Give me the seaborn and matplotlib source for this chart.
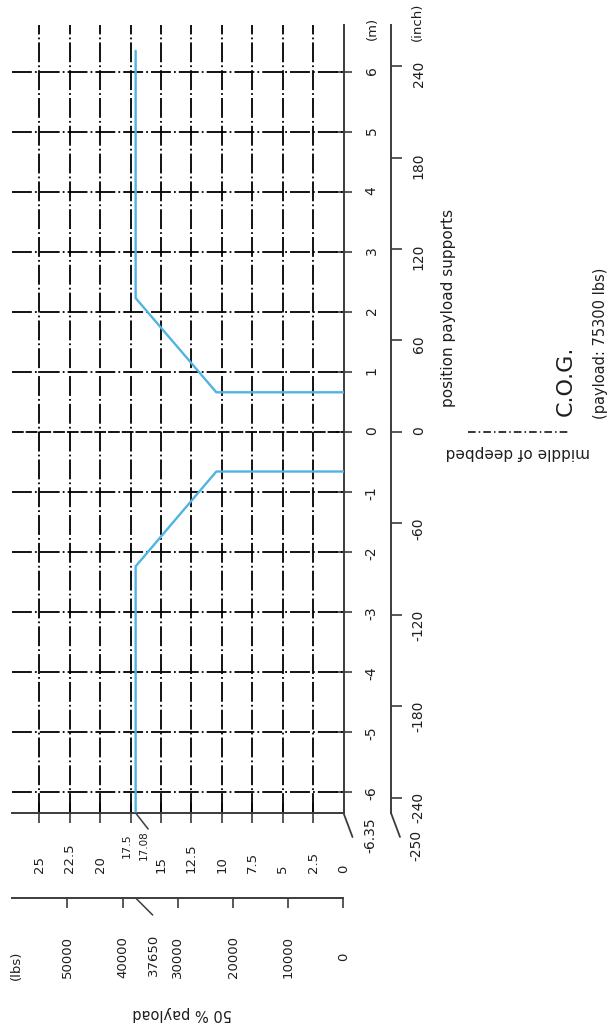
import matplotlib
matplotlib.use("Agg")
import matplotlib.pyplot as plt
import matplotlib.transforms as mtransforms
from matplotlib.lines import Line2D
import pandas as pd
import seaborn as sns

# 50 % payload (t) against position of the payload supports (m), deepbed middle = 0
pos_upper = [6.35, 2.23, 0.66, 0.66]
load_upper = [17.08, 17.08, 10.45, 0.0]
pos_lower = [-0.66, -0.66, -2.24, -6.35]
load_lower = [0.0, 10.45, 17.08, 17.08]

t_ticks = [0, 2.5, 5, 7.5, 10, 12.5, 15, 17.5, 20, 22.5, 25]
t_labels = ["0", "2.5", "5", "7.5", "10", "12.5", "15", "17.5", "20", "22.5", "25"]
m_ticks = [-6, -5, -4, -3, -2, -1, 0, 1, 2, 3, 4, 5, 6]
m_labels = ["-6", "-5", "-4", "-3", "-2", "-1", "0", "1", "2", "3", "4", "5", "6"]
inch_ticks = [-240, -180, -120, -60, 0, 60, 120, 180, 240]
inch_labels = ["-240", "-180", "-120", "-60", "0", "60", "120", "180", "240"]
lbs_ticks = [0, 10000, 20000, 30000, 40000, 50000]
lbs_labels = ["0", "10000", "20000", "30000", "40000", "50000"]

max_t = 17.08
max_lbs = 37650
end_m = -6.35
end_inch = -250
payload_lbs = 75300

LBS_PER_T = 2204.62
INCH_PER_M = 39.3701
BLUE = "#4fb4e4"
INK = "#1e1e1e"
AXC = "#3c3c3c"
DASHDOT = (0, (11, 1.7, 1, 1.7))

W, H = 612, 1033


def fx(px):
    return px / W


def fy(py):
    return 1 - py / H


sns.set_theme(style="ticks")
plt.rcParams["font.family"] = ["DejaVu Sans"]
plt.rcParams["text.color"] = INK

fig = plt.figure(figsize=(W / 100, H / 100), dpi=100)
ax = fig.add_axes([fx(12), fy(813), fx(343.5) - fx(12), fy(25) - fy(813)])

df = pd.DataFrame({
    "pos_m": pos_upper + pos_lower,
    "load_t": load_upper + load_lower,
    "branch": ["upper"] * len(pos_upper) + ["lower"] * len(pos_lower),
})
sns.lineplot(data=df, x="load_t", y="pos_m", units="branch", estimator=None,
             sort=False, color=BLUE, lw=1.7, ax=ax, zorder=3)

# dash-dot grid, the deepbed middle drawn dashed
for v in t_ticks[1:]:
    ax.axvline(v, color="black", lw=1.3, ls=DASHDOT, zorder=1)
for p in m_ticks:
    ax.axhline(p, color="black", lw=1.3,
               ls=(0, (6.5, 1.1)) if p == 0 else DASHDOT, zorder=1)

ax.set_xlim(27.24, 0)
ax.set_ylim(end_m, 6.78)
ax.set_xlabel("")
ax.set_ylabel("")

# twin axes for inch and lbs scales
ax_in = ax.twinx()
ax_lb = ax.twiny()

for s in ["top", "left"]:
    ax.spines[s].set_visible(False)
for s in ["bottom", "right"]:
    ax.spines[s].set_color(AXC)
    ax.spines[s].set_linewidth(1.4)

ax.xaxis.tick_bottom()
ax.set_xticks(t_ticks[1:])
ax.set_xticklabels([])
ax.tick_params(axis="x", direction="inout", length=15, width=1.2, color=AXC,
               top=False, labeltop=False)
ax.yaxis.tick_right()
ax.set_yticks(m_ticks)
ax.set_yticklabels(m_labels)
ax.tick_params(axis="y", direction="inout", length=11.5, width=1.2, color=AXC,
               pad=9.5, labelrotation=90, labelsize=10, labelcolor=INK,
               left=False, labelleft=False)

# tonnes labels
tb = mtransforms.blended_transform_factory(ax.transData, fig.transFigure)
for v, lab in zip(t_ticks, t_labels):
    if v == 17.5:
        ax.text(v, fy(858), lab, transform=mtransforms.offset_copy(tb, fig=fig, x=-4, units="dots"),
                rotation=90, rotation_mode="anchor", ha="left", va="center", fontsize=8)
    else:
        ax.text(v, fy(873), lab, transform=tb, rotation=90, rotation_mode="anchor",
                ha="left", va="center", fontsize=9.5)
ax.text(max_t, fy(860), f"{max_t:.2f}", transform=mtransforms.offset_copy(tb, fig=fig, x=8.5, units="dots"),
        rotation=90, rotation_mode="anchor", ha="left", va="center", fontsize=7.5)
ax.annotate("", xy=(max_t, end_m), xytext=(12.5, -16), textcoords="offset pixels",
            arrowprops=dict(arrowstyle="-", color=AXC, lw=1.1, shrinkA=0, shrinkB=0))

# end of the m axis
ax.annotate("", xy=(0, end_m), xytext=(9, -24), textcoords="offset pixels",
            arrowprops=dict(arrowstyle="-", color=AXC, lw=1.3, shrinkA=0, shrinkB=0))
ax.text(0, end_m, f"{end_m:.2f}", transform=mtransforms.offset_copy(ax.transData, fig=fig, x=26.5, y=-22, units="dots"),
        rotation=90, ha="center", va="center", fontsize=10)

# inch axis
ax_in.set_ylim(end_m * INCH_PER_M, 6.78 * INCH_PER_M)
for s in ["top", "left", "bottom"]:
    ax_in.spines[s].set_visible(False)
ax_in.spines["right"].set_position(("outward", 34.2))
ax_in.spines["right"].set_color(AXC)
ax_in.spines["right"].set_linewidth(1.4)
ax_in.set_yticks(inch_ticks)
ax_in.set_yticklabels(inch_labels)
ax_in.tick_params(axis="y", direction="out", length=7.9, width=1.2, color=AXC,
                  pad=7, labelrotation=90, labelsize=10, labelcolor=INK,
                  left=False, labelleft=False)
ax.annotate("", xy=(0, end_m), xycoords=mtransforms.offset_copy(ax.transData, fig=fig, x=47.5, units="dots"),
            xytext=(9, -24), textcoords="offset pixels",
            arrowprops=dict(arrowstyle="-", color=AXC, lw=1.3, shrinkA=0, shrinkB=0))
ib = mtransforms.blended_transform_factory(fig.transFigure, ax_in.transData)
ax_in.text(fx(416), end_inch, str(end_inch), transform=mtransforms.offset_copy(ib, fig=fig, y=-32, units="dots"),
           rotation=90, ha="center", va="center", fontsize=10)

# lbs axis
ax_lb.set_xlim(27.24 * LBS_PER_T, 0)
ax_lb.xaxis.set_ticks_position("bottom")
for s in ["top", "left", "right"]:
    ax_lb.spines[s].set_visible(False)
ax_lb.spines["bottom"].set_visible(True)
ax_lb.spines["bottom"].set_position(("outward", 61.2))
ax_lb.spines["bottom"].set_color(AXC)
ax_lb.spines["bottom"].set_linewidth(1.4)
ax_lb.set_xticks(lbs_ticks)
ax_lb.set_xticklabels([])
ax_lb.tick_params(axis="x", direction="out", length=7.2, width=1.2, color=AXC,
                  top=False, labeltop=False)
lb = mtransforms.blended_transform_factory(ax_lb.transData, fig.transFigure)
for v, lab in zip(lbs_ticks, lbs_labels):
    ax_lb.text(v, fy(957), lab, transform=lb, rotation=90, ha="center", va="center", fontsize=9.5)
ax_lb.text(max_lbs, fy(955), str(max_lbs), transform=mtransforms.offset_copy(lb, fig=fig, x=17.5, units="dots"),
           rotation=90, ha="center", va="center", fontsize=9.5)
ax_lb.annotate("", xy=(max_lbs, end_m),
               xycoords=mtransforms.offset_copy(ax_lb.transData, fig=fig, y=-85, units="dots"),
               xytext=(17, -17), textcoords="offset pixels",
               arrowprops=dict(arrowstyle="-", color=AXC, lw=1.1, shrinkA=0, shrinkB=0))

# unit labels and axis title
fig.text(fx(372), fy(28), "(m)", rotation=90, ha="center", va="center", fontsize=9.5)
fig.text(fx(417), fy(22), "(inch)", rotation=90, ha="center", va="center", fontsize=9.5)
fig.text(fx(16), fy(965), "(lbs)", rotation=90, ha="center", va="center", fontsize=9.5)
fig.text(fx(182), fy(1013), "50 % payload", rotation=180, ha="center", va="center", fontsize=10.5)

# legend
fig.text(fx(449), fy(308), "position payload supports", rotation=90, ha="center", va="center", fontsize=11)
fig.add_artist(Line2D([fx(468), fx(570)], [fy(432), fy(432)], transform=fig.transFigure,
                      color="black", lw=1.1, ls=(0, (5, 2, 1, 2))))
fig.text(fx(518), fy(453), "middle of deepbed", rotation=180, ha="center", va="center", fontsize=11)
fig.text(fx(566), fy(381), "C.O.G.", rotation=90, ha="center", va="center", fontsize=16)
fig.text(fx(601), fy(343), f"(payload: {payload_lbs} lbs)", rotation=90, ha="center", va="center", fontsize=10.5)

fig.savefig("out.png", dpi=100)
